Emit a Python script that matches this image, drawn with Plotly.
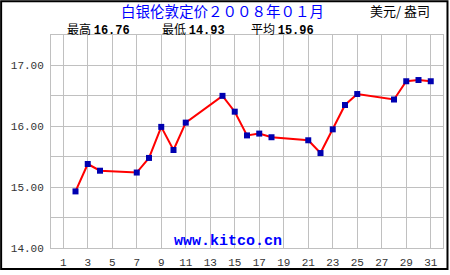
import plotly.graph_objects as go

days = [2, 3, 4, 7, 8, 9, 10, 11, 14, 15, 16, 17, 18, 21, 22, 23, 24, 25, 28, 29, 30, 31]
prices = [14.93, 15.38, 15.27, 15.24, 15.48, 15.99, 15.61, 16.06, 16.50, 16.24, 15.85,
          15.88, 15.82, 15.77, 15.56, 15.95, 16.35, 16.53, 16.44, 16.74, 16.76, 16.74]

x_ticks = list(range(1, 32, 2))
y_grid = [14.0, 14.5, 15.0, 15.5, 16.0, 16.5, 17.0, 17.5]
y_labels = ["14.00", "", "15.00", "", "16.00", "", "17.00", ""]

title = "白银伦敦定价２００８年０１月"
unit = "美元/ 盎司"
stats = [("最高", "16.76"), ("最低", "14.93"), ("平均", "15.96")]
watermark = "www.kitco.cn"

W, H = 450, 275
ML, MR, MT, MB = 51, 6, 35, 23

fig = go.Figure()
fig.add_trace(go.Scatter(
    x=days, y=prices, mode="lines+markers",
    line=dict(color="#FF0000", width=2),
    marker=dict(symbol="square", size=6, color="#0000B0", line=dict(width=0)),
    showlegend=False, hoverinfo="skip"))

grid = "#C0C0C0"
tickfont = dict(family="Liberation Mono", size=11, color="#333333")
fig.update_xaxes(range=[0, 32], tickmode="array", tickvals=x_ticks,
                 ticktext=[str(v) for v in x_ticks], showgrid=True, gridcolor=grid,
                 gridwidth=1, zeroline=False, showline=True, linecolor=grid,
                 linewidth=1, mirror=True, ticks="", tickfont=tickfont,
                 ticklabelstandoff=4)
fig.update_yaxes(range=[14, 17.5], tickmode="array", tickvals=y_grid,
                 ticktext=y_labels, showgrid=True, gridcolor=grid, gridwidth=1,
                 zeroline=False, showline=True, linecolor=grid, linewidth=1,
                 mirror=True, ticks="", tickfont=tickfont, ticklabelstandoff=4)

pw, ph = W - ML - MR, H - MT - MB
def px(x): return (x - ML) / pw
def py(y): return 1 - (y - MT) / ph

anns = []
cjk = "Noto Sans CJK SC"
anns.append(dict(text=title, x=px(223), y=py(10), xref="paper", yref="paper",
                 xanchor="center", yanchor="middle", showarrow=False, borderpad=0,
                 font=dict(family=cjk, size=14.5, color="#0000FF")))
anns.append(dict(text=unit, x=px(370), y=py(10), xref="paper", yref="paper",
                 xanchor="left", yanchor="middle", showarrow=False, borderpad=0,
                 font=dict(family=cjk, size=13, color="#000000")))
for (lab, val), xl in zip(stats, [66, 161, 251]):
    anns.append(dict(text=f"{lab} <b><span style='font-family:Liberation Mono'>{val}</span></b>",
                     x=px(xl), y=py(29.3), xref="paper", yref="paper",
                     xanchor="left", yanchor="middle", showarrow=False, borderpad=0,
                     font=dict(family=cjk, size=12, color="#000000")))
anns.append(dict(text=f"<b>{watermark}</b>", x=px(172), y=py(245), xref="paper",
                 yref="paper", xanchor="left", yanchor="middle", showarrow=False,
                 font=dict(family="Liberation Mono", size=15, color="#0000FF")))

shapes = [dict(type="rect", xref="paper", yref="paper",
               x0=px(1), x1=px(448.5), y0=py(273.5), y1=py(0.5),
               line=dict(color="#000000", width=2), layer="above")]

fig.update_layout(width=W, height=H, margin=dict(l=ML, r=MR, t=MT, b=MB),
                  paper_bgcolor="white", plot_bgcolor="white",
                  annotations=anns, shapes=shapes)
fig.write_html("out.html", config={"displayModeBar": False})
